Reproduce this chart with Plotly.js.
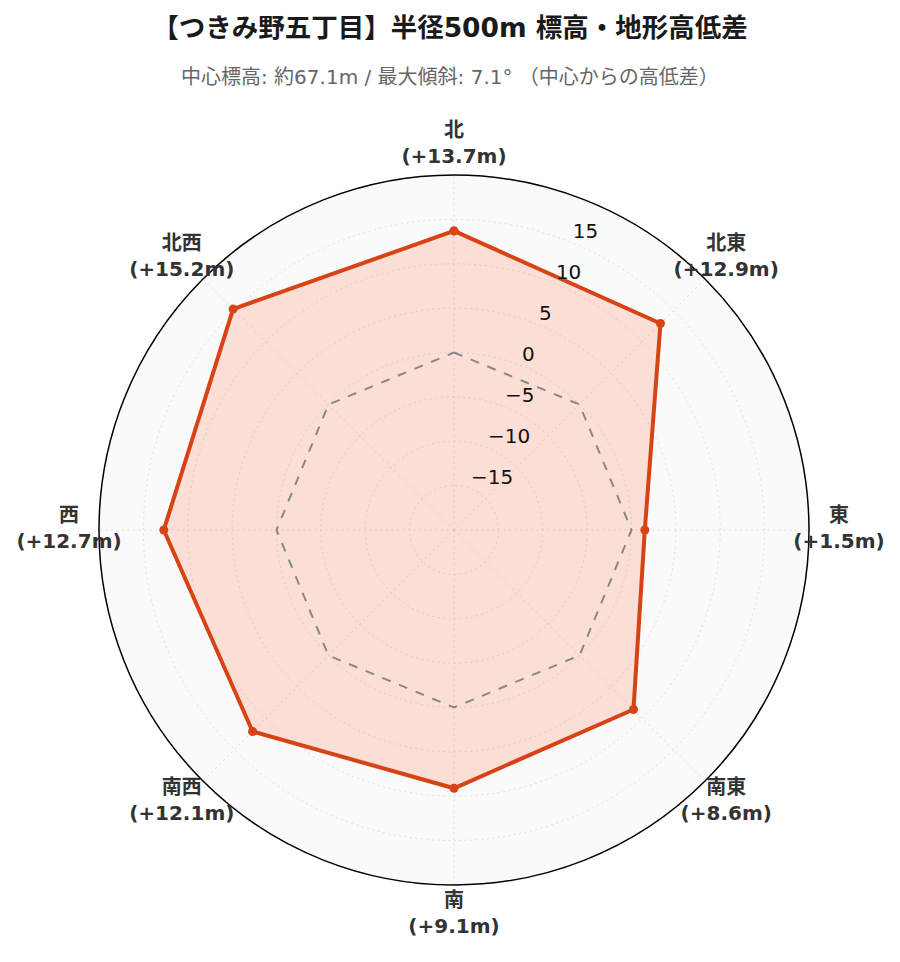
<!DOCTYPE html>
<html>
<head>
<meta charset="utf-8">
<script src="https://cdn.plot.ly/plotly-3.0.1.min.js"></script>
<style>html,body{margin:0;padding:0;background:#fff;}#chart{width:900px;height:962px;}</style>
</head>
<body>
<div id="chart"></div>
<script>
const directions = ["北", "北東", "東", "南東", "南", "南西", "西", "北西"];
const diffs = [13.7, 12.9, 1.5, 8.6, 9.1, 12.1, 12.7, 15.2];
const reference = [0, 0, 0, 0, 0, 0, 0, 0];
const radialTicks = [-15, -10, -5, 0, 5, 10, 15];
const radialTickText = ["−15", "−10", "−5", "0", "5", "10", "15"];
const radialRange = [-20, 20];
const tickLabelBearing = 22.5; // degrees clockwise from north

const FONT = "DejaVu Sans, Noto Sans CJK JP, sans-serif";
const labels = directions.map((d, i) => "<b>" + d + "<br>(" + (diffs[i] >= 0 ? "+" : "") + diffs[i].toFixed(1) + "m)</b>");

const thetaC = directions.concat([directions[0]]);
const traces = [
  {
    type: "scatterpolar",
    r: diffs.concat([diffs[0]]),
    theta: thetaC,
    mode: "lines+markers",
    fill: "toself",
    fillcolor: "rgba(255,87,34,0.17)",
    line: {color: "#d84315", width: 4},
    marker: {color: "#d84315", size: 9},
    showlegend: false,
    subplot: "polar"
  },
  {
    type: "scatterpolar",
    r: reference.concat([reference[0]]),
    theta: thetaC,
    mode: "lines",
    line: {color: "#888888", width: 2, dash: "dash"},
    hoverinfo: "skip",
    showlegend: false,
    subplot: "polar"
  },
  {
    type: "scatterpolar",
    r: directions.map(() => 1),
    theta: directions,
    mode: "text",
    text: labels,
    textposition: "middle center",
    textfont: {family: FONT, size: 20, color: "#333"},
    cliponaxis: false,
    hoverinfo: "skip",
    showlegend: false,
    subplot: "polar2"
  },
  {
    type: "scatterpolar",
    r: radialTicks,
    theta: radialTicks.map(() => tickLabelBearing),
    mode: "text",
    text: radialTickText,
    textposition: "top right",
    textfont: {family: FONT, size: 20, color: "#111"},
    cliponaxis: false,
    hoverinfo: "skip",
    showlegend: false,
    subplot: "polar3"
  }
];

const mainDomain = {x: [0.11, 0.898889], y: [0.080042, 0.818087]};

const layout = {
  width: 900, height: 962,
  paper_bgcolor: "#ffffff",
  font: {family: FONT, color: "#333"},
  margin: {l: 0, r: 0, t: 0, b: 0},
  title: {
    text: "<b>【つきみ野五丁目】半径500m 標高・地形高低差</b>",
    font: {family: FONT, size: 26.5, color: "#1a1a1a"},
    x: 0.5, xanchor: "center", y: 0.971, yanchor: "middle"
  },
  annotations: [{
    text: "中心標高: 約67.1m / 最大傾斜: 7.1° （中心からの高低差）",
    xref: "paper", yref: "paper", x: 0.5, y: 0.92, xanchor: "center", yanchor: "middle",
    showarrow: false,
    font: {family: FONT, size: 20, color: "#666"}
  }],
  polar: {
    bgcolor: "#fafafa",
    domain: mainDomain,
    radialaxis: {
      range: radialRange,
      tickvals: radialTicks,
      angle: 67.5,
      showticklabels: false,
      showline: false,
      ticks: "",
      layer: "above traces",
      gridcolor: "#d9e1e6",
      griddash: "2px,3.5px"
    },
    angularaxis: {
      direction: "clockwise",
      rotation: 90,
      linecolor: "#000",
      linewidth: 1.5,
      layer: "above traces",
      gridcolor: "#d9e1e6",
      griddash: "2px,3.5px",
      ticks: "",
      showticklabels: false
    }
  },
  polar2: {
    bgcolor: "rgba(0,0,0,0)",
    domain: {x: [0.076667, 0.932222], y: [0.048857, 0.849272]},
    radialaxis: {range: [0, 1], visible: false, showgrid: false},
    angularaxis: {
      direction: "clockwise",
      rotation: 90,
      showline: false,
      showgrid: false,
      ticks: "",
      showticklabels: false
    }
  },
  polar3: {
    bgcolor: "rgba(0,0,0,0)",
    domain: mainDomain,
    radialaxis: {range: radialRange, visible: false, showgrid: false},
    angularaxis: {
      type: "linear",
      thetaunit: "degrees",
      direction: "clockwise",
      rotation: 90,
      showline: false,
      showgrid: false,
      ticks: "",
      showticklabels: false
    }
  }
};

Plotly.newPlot("chart", traces, layout, {displayModeBar: false});
</script>
</body>
</html>
